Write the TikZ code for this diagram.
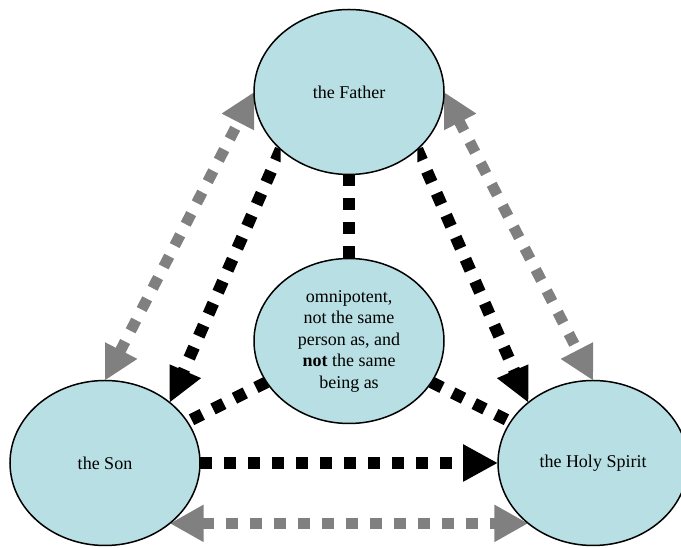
\documentclass[tikz,border=0pt]{standalone}
\usepackage{fontspec}
\setmainfont{Liberation Serif}
\usetikzlibrary{shapes.geometric,arrows.meta,backgrounds}
\definecolor{personfill}{RGB}{184,223,227}
\definecolor{linkgrey}{RGB}{128,128,128}
\begin{document}
\begin{tikzpicture}[x=1pt,y=1pt,
    person/.style={ellipse,draw=black,line width=1.5pt,fill=personfill,
      minimum width=190pt,minimum height=165pt,inner sep=0pt,outer sep=0pt,
      align=center,font=\fontsize{18}{21.5}\selectfont},
    blacklink/.style={line width=12pt,dash pattern=on 12pt off 12pt,black},
    greylink/.style={line width=11pt,dash pattern=on 12pt off 12pt,linkgrey},
    bhead/.style={-{Triangle[length=35pt,width=35pt]}},
    ghead/.style={{Triangle[length=34pt,width=35pt]}-{Triangle[length=34pt,width=35pt]}}]
    \useasboundingbox (0,0) rectangle (681,548);
    \node[person] (father) at (349,456) {the Father};
    \node[person] (centre) at (349,207) {omnipotent,\\not the same\\person as, and\\\textbf{not} the same\\being as};
    \node[person] (son) at (105,85) {the Son};
    \node[person] (spirit) at (593,85) {the Holy Spirit};
    \begin{scope}[on background layer]
    \draw[blacklink] (father.south)--(centre.north);
    \draw[blacklink] (centre)--(son);
    \draw[blacklink] (centre)--(spirit);
    \draw[blacklink,bhead] (son.east)--(spirit.west);
    \draw[greylink,ghead] (son.317)--(son.317 -| spirit.223);
    \begin{scope}
    \clip (son.43 |- 0,0) rectangle (father.220 |- 0,548);
    \draw[blacklink,bhead] (father.220)--(son.43);
    \end{scope}
    \begin{scope}
    \clip (father.320 |- 0,0) rectangle (spirit.137 |- 0,548);
    \draw[blacklink,bhead] (father.320)--(spirit.137);
    \end{scope}
    \begin{scope}
    \clip (son.north |- 0,0) rectangle (father.west |- 0,548);
    \draw[greylink,ghead] (son.north)--(father.west);
    \end{scope}
    \begin{scope}
    \clip (father.east |- 0,0) rectangle (spirit.north |- 0,548);
    \draw[greylink,ghead] (father.east)--(spirit.north);
    \end{scope}
    \end{scope}
\end{tikzpicture}
\end{document}
